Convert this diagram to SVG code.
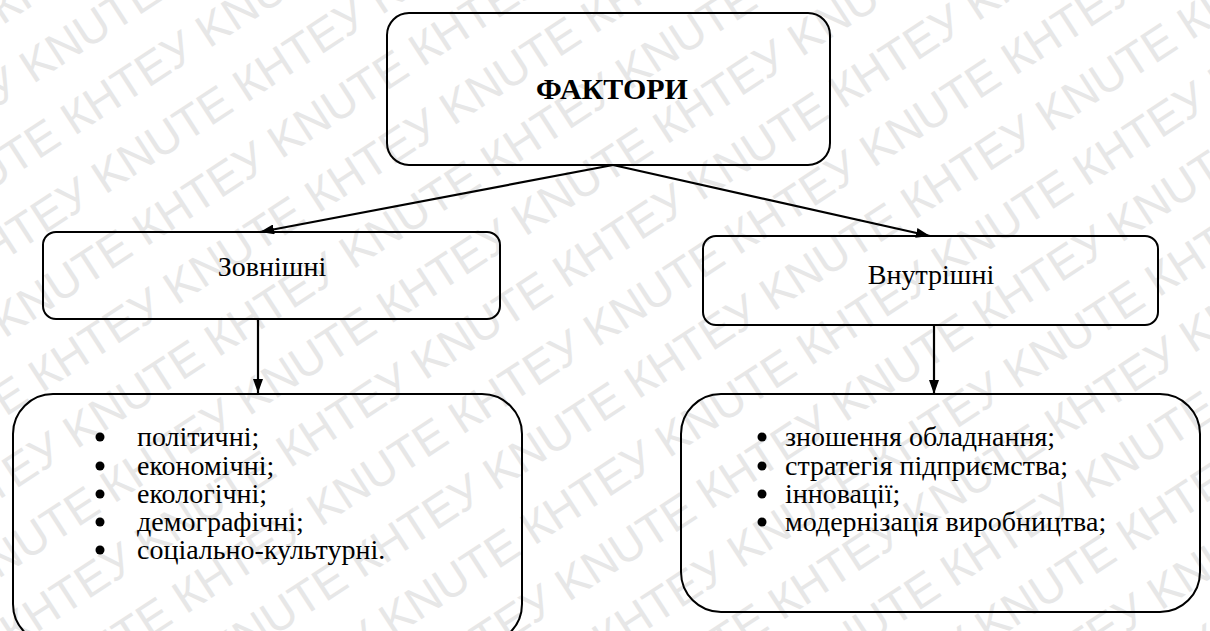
<svg xmlns="http://www.w3.org/2000/svg" width="1210" height="631" viewBox="0 0 1210 631">
<style>
.box{fill:none;stroke:#000;stroke-width:2}
.con{stroke:#000;stroke-width:2.2;fill:none;marker-end:url(#ah)}
.dot{fill:#000}
.wm text{font-family:'Liberation Sans',sans-serif;font-size:46px;fill:#e7e7e7}
.tx{font-family:'Liberation Serif','Liberation Sans',serif;font-size:28px;fill:#000}
.hd{font-family:'Liberation Serif','Liberation Sans',serif;font-size:30px;font-weight:bold;fill:#000}
</style>
<defs>
<marker id="ah" markerUnits="userSpaceOnUse" viewBox="0 0 14 10" refX="14" refY="5" markerWidth="14" markerHeight="10" orient="auto">
<path d="M0,0 L14,5 L0,10 z" fill="#000"/>
</marker>
</defs>
<rect width="1210" height="631" fill="#fff"/>
<g id="watermark" class="wm" transform="rotate(-33 605 315)">
<text x="-900" y="-520">KNUTE КНТЕУ KNUTE КНТЕУ KNUTE КНТЕУ KNUTE КНТЕУ KNUTE КНТЕУ KNUTE КНТЕУ KNUTE КНТЕУ KNUTE КНТЕУ</text>
<text x="-1067" y="-454">KNUTE КНТЕУ KNUTE КНТЕУ KNUTE КНТЕУ KNUTE КНТЕУ KNUTE КНТЕУ KNUTE КНТЕУ KNUTE КНТЕУ KNUTE КНТЕУ</text>
<text x="-900" y="-388">KNUTE КНТЕУ KNUTE КНТЕУ KNUTE КНТЕУ KNUTE КНТЕУ KNUTE КНТЕУ KNUTE КНТЕУ KNUTE КНТЕУ KNUTE КНТЕУ</text>
<text x="-1067" y="-322">KNUTE КНТЕУ KNUTE КНТЕУ KNUTE КНТЕУ KNUTE КНТЕУ KNUTE КНТЕУ KNUTE КНТЕУ KNUTE КНТЕУ KNUTE КНТЕУ</text>
<text x="-900" y="-256">KNUTE КНТЕУ KNUTE КНТЕУ KNUTE КНТЕУ KNUTE КНТЕУ KNUTE КНТЕУ KNUTE КНТЕУ KNUTE КНТЕУ KNUTE КНТЕУ</text>
<text x="-1067" y="-190">KNUTE КНТЕУ KNUTE КНТЕУ KNUTE КНТЕУ KNUTE КНТЕУ KNUTE КНТЕУ KNUTE КНТЕУ KNUTE КНТЕУ KNUTE КНТЕУ</text>
<text x="-900" y="-124">KNUTE КНТЕУ KNUTE КНТЕУ KNUTE КНТЕУ KNUTE КНТЕУ KNUTE КНТЕУ KNUTE КНТЕУ KNUTE КНТЕУ KNUTE КНТЕУ</text>
<text x="-1067" y="-58">KNUTE КНТЕУ KNUTE КНТЕУ KNUTE КНТЕУ KNUTE КНТЕУ KNUTE КНТЕУ KNUTE КНТЕУ KNUTE КНТЕУ KNUTE КНТЕУ</text>
<text x="-900" y="8">KNUTE КНТЕУ KNUTE КНТЕУ KNUTE КНТЕУ KNUTE КНТЕУ KNUTE КНТЕУ KNUTE КНТЕУ KNUTE КНТЕУ KNUTE КНТЕУ</text>
<text x="-1067" y="74">KNUTE КНТЕУ KNUTE КНТЕУ KNUTE КНТЕУ KNUTE КНТЕУ KNUTE КНТЕУ KNUTE КНТЕУ KNUTE КНТЕУ KNUTE КНТЕУ</text>
<text x="-900" y="140">KNUTE КНТЕУ KNUTE КНТЕУ KNUTE КНТЕУ KNUTE КНТЕУ KNUTE КНТЕУ KNUTE КНТЕУ KNUTE КНТЕУ KNUTE КНТЕУ</text>
<text x="-1067" y="206">KNUTE КНТЕУ KNUTE КНТЕУ KNUTE КНТЕУ KNUTE КНТЕУ KNUTE КНТЕУ KNUTE КНТЕУ KNUTE КНТЕУ KNUTE КНТЕУ</text>
<text x="-900" y="272">KNUTE КНТЕУ KNUTE КНТЕУ KNUTE КНТЕУ KNUTE КНТЕУ KNUTE КНТЕУ KNUTE КНТЕУ KNUTE КНТЕУ KNUTE КНТЕУ</text>
<text x="-1067" y="338">KNUTE КНТЕУ KNUTE КНТЕУ KNUTE КНТЕУ KNUTE КНТЕУ KNUTE КНТЕУ KNUTE КНТЕУ KNUTE КНТЕУ KNUTE КНТЕУ</text>
<text x="-900" y="404">KNUTE КНТЕУ KNUTE КНТЕУ KNUTE КНТЕУ KNUTE КНТЕУ KNUTE КНТЕУ KNUTE КНТЕУ KNUTE КНТЕУ KNUTE КНТЕУ</text>
<text x="-1067" y="470">KNUTE КНТЕУ KNUTE КНТЕУ KNUTE КНТЕУ KNUTE КНТЕУ KNUTE КНТЕУ KNUTE КНТЕУ KNUTE КНТЕУ KNUTE КНТЕУ</text>
<text x="-900" y="536">KNUTE КНТЕУ KNUTE КНТЕУ KNUTE КНТЕУ KNUTE КНТЕУ KNUTE КНТЕУ KNUTE КНТЕУ KNUTE КНТЕУ KNUTE КНТЕУ</text>
<text x="-1067" y="602">KNUTE КНТЕУ KNUTE КНТЕУ KNUTE КНТЕУ KNUTE КНТЕУ KNUTE КНТЕУ KNUTE КНТЕУ KNUTE КНТЕУ KNUTE КНТЕУ</text>
<text x="-900" y="668">KNUTE КНТЕУ KNUTE КНТЕУ KNUTE КНТЕУ KNUTE КНТЕУ KNUTE КНТЕУ KNUTE КНТЕУ KNUTE КНТЕУ KNUTE КНТЕУ</text>
<text x="-1067" y="734">KNUTE КНТЕУ KNUTE КНТЕУ KNUTE КНТЕУ KNUTE КНТЕУ KNUTE КНТЕУ KNUTE КНТЕУ KNUTE КНТЕУ KNUTE КНТЕУ</text>
<text x="-900" y="800">KNUTE КНТЕУ KNUTE КНТЕУ KNUTE КНТЕУ KNUTE КНТЕУ KNUTE КНТЕУ KNUTE КНТЕУ KNUTE КНТЕУ KNUTE КНТЕУ</text>
<text x="-1067" y="866">KNUTE КНТЕУ KNUTE КНТЕУ KNUTE КНТЕУ KNUTE КНТЕУ KNUTE КНТЕУ KNUTE КНТЕУ KNUTE КНТЕУ KNUTE КНТЕУ</text>
<text x="-900" y="932">KNUTE КНТЕУ KNUTE КНТЕУ KNUTE КНТЕУ KNUTE КНТЕУ KNUTE КНТЕУ KNUTE КНТЕУ KNUTE КНТЕУ KNUTE КНТЕУ</text>
<text x="-1067" y="998">KNUTE КНТЕУ KNUTE КНТЕУ KNUTE КНТЕУ KNUTE КНТЕУ KNUTE КНТЕУ KNUTE КНТЕУ KNUTE КНТЕУ KNUTE КНТЕУ</text>
<text x="-900" y="1064">KNUTE КНТЕУ KNUTE КНТЕУ KNUTE КНТЕУ KNUTE КНТЕУ KNUTE КНТЕУ KNUTE КНТЕУ KNUTE КНТЕУ KNUTE КНТЕУ</text>
<text x="-1067" y="1130">KNUTE КНТЕУ KNUTE КНТЕУ KNUTE КНТЕУ KNUTE КНТЕУ KNUTE КНТЕУ KNUTE КНТЕУ KNUTE КНТЕУ KNUTE КНТЕУ</text>
</g>
<g id="connectors">
<line class="con" x1="613" y1="165" x2="260" y2="232"/>
<line class="con" x1="613" y1="165" x2="930" y2="236"/>
<line class="con" x1="258" y1="320" x2="258" y2="393"/>
<line class="con" x1="934" y1="325" x2="934" y2="394"/>
</g>
<g id="factors">
<rect class="box" x="387" y="13" width="443" height="152" rx="22"/>
<text class="hd" x="612" y="99" text-anchor="middle">ФАКТОРИ</text>
</g>
<g id="external">
<rect class="box" x="43" y="232" width="457" height="87" rx="13"/>
<text class="tx" x="272" y="276" text-anchor="middle">Зовнішні</text>
</g>
<g id="internal">
<rect class="box" x="703" y="236" width="455" height="89" rx="13"/>
<text class="tx" x="931" y="284" text-anchor="middle">Внутрішні</text>
</g>
<g id="external-list">
<rect class="box" x="13" y="394" width="509" height="250" rx="40"/>
<circle class="dot" cx="100" cy="437" r="4.5"/>
<circle class="dot" cx="100" cy="466" r="4.5"/>
<circle class="dot" cx="100" cy="494" r="4.5"/>
<circle class="dot" cx="100" cy="522" r="4.5"/>
<circle class="dot" cx="100" cy="550" r="4.5"/>
<text class="tx" x="137" y="446">політичні;</text>
<text class="tx" x="137" y="475">економічні;</text>
<text class="tx" x="137" y="503">екологічні;</text>
<text class="tx" x="137" y="531">демографічні;</text>
<text class="tx" x="137" y="559">соціально-культурні.</text>
</g>
<g id="internal-list">
<rect class="box" x="681" y="394" width="519" height="218" rx="40"/>
<circle class="dot" cx="762" cy="437" r="4.5"/>
<circle class="dot" cx="762" cy="466" r="4.5"/>
<circle class="dot" cx="762" cy="494" r="4.5"/>
<circle class="dot" cx="762" cy="522" r="4.5"/>
<text class="tx" x="785" y="446">зношення обладнання;</text>
<text class="tx" x="785" y="475">стратегія підприємства;</text>
<text class="tx" x="785" y="503">інновації;</text>
<text class="tx" x="785" y="531">модернізація виробництва;</text>
</g>
</svg>
